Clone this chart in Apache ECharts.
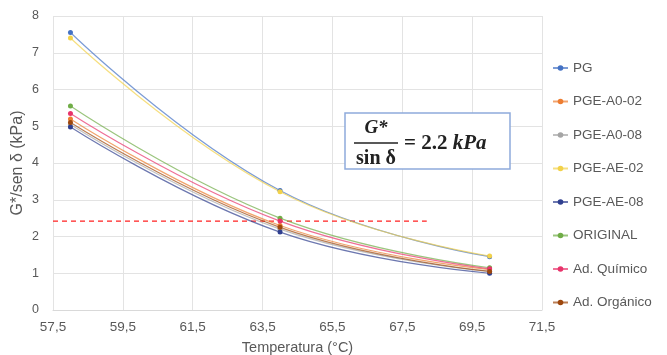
<!DOCTYPE html>
<html>
<head>
<meta charset="utf-8">
<script src="https://cdn.jsdelivr.net/npm/echarts@6/dist/echarts.min.js"></script>
<style>
  html, body { margin: 0; padding: 0; background: #fff; }
  #chart { width: 667px; height: 355px; }
</style>
</head>
<body>
<div id="chart"></div>
<script>
// temperaturas de ensayo (°C)
var temps = [58, 64, 70];
var names = ['PG', 'PGE-A0-02', 'PGE-A0-08', 'PGE-AE-02', 'PGE-AE-08', 'ORIGINAL', 'Ad. Químico', 'Ad. Orgánico'];
// G*/sen δ (kPa) por temperatura
var pg = [7.55, 3.25, 1.45];
var pgeA002 = [5.2, 2.3, 1.1];
var pgeA008 = [5.05, 2.2, 1.05];
var pgeAE02 = [7.4, 3.22, 1.47];
var pgeAE08 = [4.98, 2.12, 1.0];
var original = [5.55, 2.5, 1.15];
var adQuimico = [5.35, 2.42, 1.12];
var adOrganico = [5.1, 2.25, 1.05];
var xTicks = [57.5, 59.5, 61.5, 63.5, 65.5, 67.5, 69.5, 71.5];
var yTicks = [0, 1, 2, 3, 4, 5, 6, 7, 8];
// línea límite 2.2 kPa (dibujada en el original a esta altura)
var limitY = 2.42;
var limitX = [57.5, 68.2];

var colors = ['#4472c4', '#ed7d31', '#a5a5a5', '#f2d24a', '#2f3f8f', '#70ad47', '#e8336b', '#9e480e'];
var values = [pg, pgeA002, pgeA008, pgeAE02, pgeAE08, original, adQuimico, adOrganico];

var labelColor = '#595959';
var font = 'Liberation Sans';

var series = names.map(function (n, i) {
    return {
        name: n,
        type: 'line',
        smooth: 0.45,
        symbol: 'circle',
        symbolSize: 5,
        data: temps.map(function (t, j) { return [t, values[i][j]]; }),
        itemStyle: { color: colors[i] },
        lineStyle: { width: 1.2, color: colors[i], opacity: 0.7 },
        z: 3
    };
});
series.push({
    name: 'limite',
    type: 'line',
    symbol: 'none',
    data: limitX.map(function (x) { return [x, limitY]; }),
    lineStyle: { color: '#ff2020', width: 1.3, type: [5, 4] },
    silent: true,
    z: 2
});

var myChart = echarts.init(document.getElementById('chart'));
myChart.setOption({
    animation: false,
    backgroundColor: '#fff',
    grid: { left: 53, right: 125, top: 16, bottom: 45, outerBoundsMode: 'none', containLabel: false },
    xAxis: {
        type: 'value',
        min: xTicks[0],
        max: xTicks[xTicks.length - 1],
        interval: 2,
        name: 'Temperatura (°C)',
        nameLocation: 'middle',
        nameGap: 30,
        nameTextStyle: { color: labelColor, fontSize: 14.5, fontFamily: font },
        axisLine: { show: true, lineStyle: { color: '#d9d9d9' } },
        axisTick: { show: false },
        axisLabel: {
            color: labelColor, fontSize: 13.5, fontFamily: font, margin: 10,
            formatter: function (v) { return String(v).replace('.', ','); }
        },
        splitLine: { show: true, lineStyle: { color: '#e3e3e3' } }
    },
    yAxis: {
        type: 'value',
        min: yTicks[0],
        max: yTicks[yTicks.length - 1],
        interval: 1,
        name: 'G*/sen δ (kPa)',
        nameLocation: 'middle',
        nameGap: 27,
        nameMoveOverlap: false,
        nameTextStyle: { color: labelColor, fontSize: 16, fontFamily: font },
        axisLine: { show: false },
        axisTick: { show: false },
        axisLabel: { color: labelColor, fontSize: 12.5, fontFamily: font, margin: 14 },
        splitLine: { lineStyle: { color: '#e3e3e3' } }
    },
    legend: {
        data: names,
        orient: 'vertical',
        left: 547,
        top: 56,
        itemWidth: 15,
        itemHeight: 7,
        itemGap: 19.5,
        textStyle: { color: labelColor, fontSize: 13.5, fontFamily: font }
    },
    graphic: [
        {
            type: 'rect',
            shape: { x: 345, y: 113, width: 165, height: 56 },
            style: { fill: '#fff', stroke: '#8eaadb', lineWidth: 1.5 },
            z: 10
        },
        {
            type: 'text',
            x: 376, y: 128,
            style: {
                text: 'G*', fill: '#222', font: 'italic bold 19px "Liberation Serif"',
                align: 'center', verticalAlign: 'middle'
            },
            z: 11
        },
        {
            type: 'line',
            shape: { x1: 354, y1: 143, x2: 398, y2: 143 },
            style: { stroke: '#222', lineWidth: 1.3 },
            z: 11
        },
        {
            type: 'text',
            x: 376, y: 159,
            style: {
                text: 'sin δ', fill: '#222', font: 'bold 20px "Liberation Serif"',
                align: 'center', verticalAlign: 'middle'
            },
            z: 11
        },
        {
            type: 'text',
            x: 404, y: 144,
            style: {
                text: '{n|= 2.2 }{u|kPa}',
                verticalAlign: 'middle',
                rich: {
                    n: { fill: '#222', fontSize: 21, fontFamily: 'Liberation Serif', fontWeight: 'bold' },
                    u: { fill: '#222', fontSize: 21, fontFamily: 'Liberation Serif', fontWeight: 'bold', fontStyle: 'italic' }
                }
            },
            z: 11
        }
    ],
    series: series
});
</script>
</body>
</html>
